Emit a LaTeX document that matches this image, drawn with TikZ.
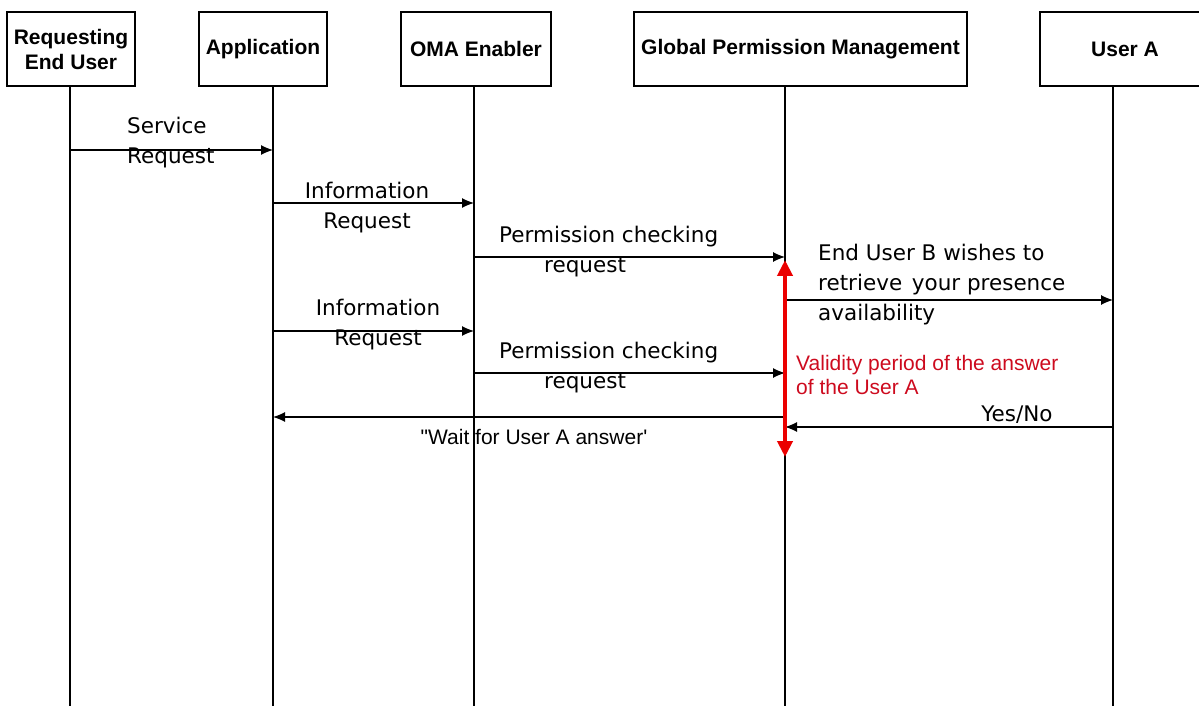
\documentclass[tikz,border=0pt]{standalone}
\usepackage{fontspec}
\setmainfont{Liberation Sans}
\newfontfamily\msgfont{DejaVu Sans}
\newfontfamily\plainfont{Liberation Sans}[Ligatures=TeXOff]
\usetikzlibrary{arrows.meta}
\definecolor{redline}{RGB}{235,0,0}
\definecolor{redtext}{RGB}{205,10,30}
\begin{document}
\begin{tikzpicture}[x=1pt,y=-1pt,
  hdr/.style={draw,line width=1.3pt,inner sep=0pt,align=center,
    font=\fontsize{21}{25}\selectfont\bfseries,minimum height=74pt},
  life/.style={line width=1.3pt},
  msg/.style={line width=1.2pt,-{Latex[length=12pt,width=10pt]}},
  lbl/.style={inner sep=0pt,font=\msgfont\fontsize{21.5}{30}\selectfont},
  rlbl/.style={inner sep=0pt,text=redtext,align=left,anchor=west,
    font=\fontsize{21}{24}\selectfont},
  wlbl/.style={inner sep=0pt,font=\plainfont\fontsize{21}{24}\selectfont},
  validity/.style={draw=redline,line width=4pt,
    {Triangle[length=16pt,width=15pt]}-{Triangle[length=16pt,width=15pt]}}]
\useasboundingbox (0,0) rectangle (1199,711);
% header boxes
\node[hdr,minimum width=128pt] (b1) at (71,49) {Requesting\\End User};
\node[hdr,minimum width=128pt] (b2) at (263,49) {Application};
\node[hdr,minimum width=150pt] (b3) at (476,49) {OMA Enabler};
\node[hdr,minimum width=333pt] (b4) at (800.5,49) {Global Permission Management};
\node[hdr,minimum width=170pt] (b5) at (1125,49) {User A};
% lifelines
\coordinate (t1) at (70,86);   \coordinate (e1) at (70,706);
\coordinate (t2) at (273,86);  \coordinate (e2) at (273,706);
\coordinate (t3) at (474,86);  \coordinate (e3) at (474,706);
\coordinate (t4) at (785,86);  \coordinate (e4) at (785,706);
\coordinate (t5) at (1113,86); \coordinate (e5) at (1113,706);
\foreach \i in {1,...,5} {\draw[life] (t\i) -- (e\i);}
% message end points
\coordinate (sr1) at (70,150);   \coordinate (sr2) at (273,150);
\coordinate (ir1) at (273,203);  \coordinate (ir2) at (474,203);
\coordinate (pc1) at (474,257);  \coordinate (pc2) at (785,257);
\coordinate (eu1) at (785,300);  \coordinate (eu2) at (1113,300);
\coordinate (jr1) at (273,331);  \coordinate (jr2) at (474,331);
\coordinate (qc1) at (474,373);  \coordinate (qc2) at (785,373);
\coordinate (yn1) at (1113,427); \coordinate (yn2) at (785,427);
\coordinate (wt1) at (785,417);  \coordinate (wt2) at (273,417);
\coordinate (v1) at (785,260);   \coordinate (v2) at (785,457);
% messages
\draw[msg] (sr1) -- (sr2);
\draw[msg] (ir1) -- (ir2);
\draw[msg] (pc1) -- (pc2);
\draw[msg] (eu1) -- (eu2);
\draw[msg] (jr1) -- (jr2);
\draw[msg] (qc1) -- (qc2);
\draw[msg] (yn1) -- (yn2);
\draw[msg] (wt1) -- (wt2);
% labels
\node[lbl,align=left,anchor=west] (lsr) at (127,143) {Service\\Request};
\node[lbl,align=center] (lir) at (367,207.5) {Information\\Request};
\node[lbl,align=left,anchor=west] (lpc) at (499,252) {Permission checking\\\hspace*{45pt}request};
\node[lbl,align=left,anchor=west] (leu) at (818,285) {End User B wishes to\\retrieve\hspace{0.45em}your presence\\availability};
\node[lbl,align=center] (ljr) at (378,324.5) {Information\\Request};
\node[lbl,align=left,anchor=west] (lqc) at (499,368) {Permission checking\\\hspace*{45pt}request};
\node[lbl] (lyn) at (1017,415) {Yes/No};
\node[wlbl] (lwt) at (534,437) {"Wait for User A answer'};
\node[rlbl] (lva) at (796,375) {Validity period of the answer\\of the User A};
% validity period
\draw[validity] (v1) -- (v2);
\end{tikzpicture}
\end{document}
